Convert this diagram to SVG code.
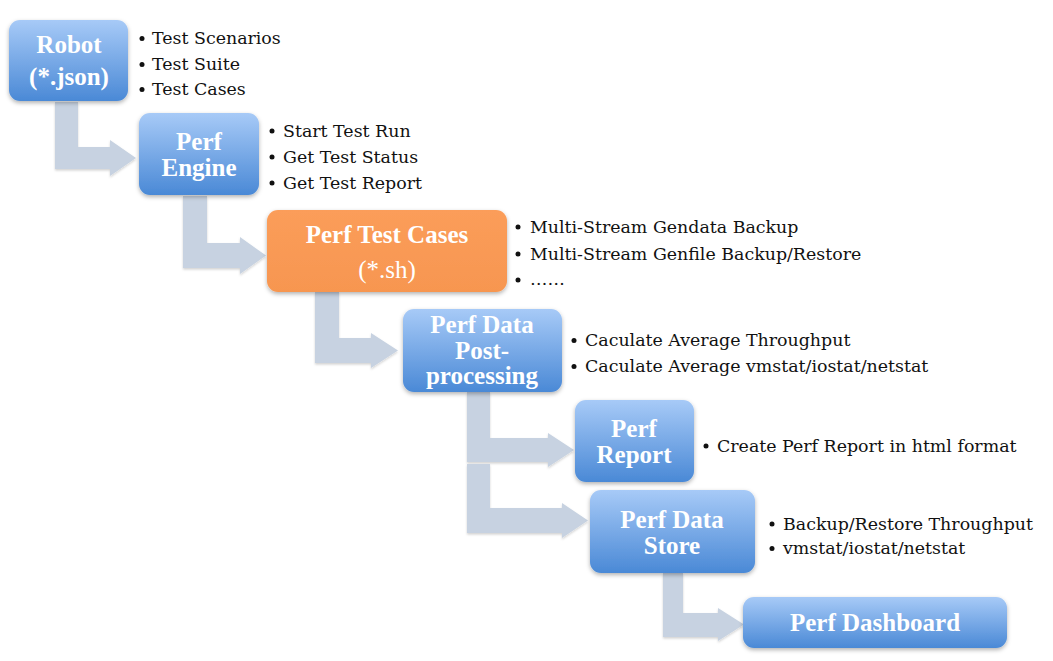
<svg xmlns="http://www.w3.org/2000/svg" width="1053" height="661" viewBox="0 0 1053 661">
<defs>
  <linearGradient id="blue" x1="0" y1="0" x2="0" y2="1">
    <stop offset="0" stop-color="#a7caf7"/>
    <stop offset="1" stop-color="#4a89d6"/>
  </linearGradient>
  <linearGradient id="orange" x1="0" y1="0" x2="0" y2="1">
    <stop offset="0" stop-color="#fb9d5a"/>
    <stop offset="1" stop-color="#f79650"/>
  </linearGradient>
  <filter id="shadow" x="-10%" y="-10%" width="120%" height="130%">
    <feDropShadow dx="0" dy="2" stdDeviation="2" flood-color="#000" flood-opacity="0.3"/>
  </filter>
  <filter id="ashadow" x="-10%" y="-10%" width="120%" height="130%">
    <feDropShadow dx="0" dy="1.5" stdDeviation="1.2" flood-color="#000" flood-opacity="0.18"/>
  </filter>
</defs>
<style>
  .box { fill: url(#blue); filter: url(#shadow); }
  .obox { fill: url(#orange); filter: url(#shadow); }
  .lbl { font-family: "Liberation Serif", "Times New Roman", serif; font-weight: bold; font-size: 25px; fill: #ffffff; text-anchor: middle; }
  .lbln { font-family: "Liberation Serif", "Times New Roman", serif; font-size: 25px; fill: #ffffff; text-anchor: middle; }
  .bul { font-family: "DejaVu Serif", "Liberation Serif", serif; font-size: 17.4px; fill: #111111; }
  .dot { fill: #111111; }
  .arrow { fill: #c7d2e1; filter: url(#ashadow); }
</style>

<g id="connectors">
  <path class="arrow" d="M55,102 H78 V147 H110 V140 L136,158 L110,176 V169 H55 Z"/>
  <path class="arrow" d="M183,196 H207 V243 H240 V237 L266,255.5 L240,274 V268 H183 Z"/>
  <path class="arrow" d="M315,292 H339 V338 H371 V333 L398,350.5 L371,368 V363 H315 Z"/>
  <path class="arrow" d="M467,392 H490 V438 H548 V433 L574,450 L548,467 V462 H467 Z"/>
  <path class="arrow" d="M467,464 H490 V508 H562 V503 L588,520.5 L562,538 V533 H467 Z"/>
  <path class="arrow" d="M663,573 H683 V613 H718 V608 L744,624.5 L718,641 V637 H663 Z"/>
</g>

<g id="robot">
  <rect class="box" x="9" y="20" width="119" height="81" rx="11"/>
  <text class="lbl" x="69" y="53">Robot</text>
  <text class="lbl" x="69" y="85">(*.json)</text>
  <circle class="dot" cx="142" cy="38.5" r="2.5"/>
  <text class="bul" x="152" y="44">Test Scenarios</text>
  <circle class="dot" cx="142" cy="64.5" r="2.5"/>
  <text class="bul" x="152" y="70">Test Suite</text>
  <circle class="dot" cx="142" cy="89.5" r="2.5"/>
  <text class="bul" x="152" y="95">Test Cases</text>
</g>

<g id="perf-engine">
  <rect class="box" x="139" y="113" width="120" height="82" rx="11"/>
  <text class="lbl" x="199" y="150">Perf</text>
  <text class="lbl" x="199" y="176">Engine</text>
  <circle class="dot" cx="272" cy="131" r="2.5"/>
  <text class="bul" x="283" y="137">Start Test Run</text>
  <circle class="dot" cx="272" cy="157" r="2.5"/>
  <text class="bul" x="283" y="163">Get Test Status</text>
  <circle class="dot" cx="272" cy="183" r="2.5"/>
  <text class="bul" x="283" y="189">Get Test Report</text>
</g>

<g id="perf-test-cases">
  <rect class="obox" x="267" y="210" width="240" height="82" rx="11"/>
  <text class="lbl" x="387" y="243">Perf Test Cases</text>
  <text class="lbln" x="387" y="278">(*.sh)</text>
  <circle class="dot" cx="518" cy="227" r="2.5"/>
  <text class="bul" x="530" y="233">Multi-Stream Gendata Backup</text>
  <circle class="dot" cx="518" cy="254" r="2.5"/>
  <text class="bul" x="530" y="260">Multi-Stream Genfile Backup/Restore</text>
  <circle class="dot" cx="518" cy="280" r="2.5"/>
  <text class="bul" x="530" y="285">……</text>
</g>

<g id="perf-data-post-processing">
  <rect class="box" x="403" y="309" width="159" height="83" rx="11"/>
  <text class="lbl" x="482" y="333">Perf Data</text>
  <text class="lbl" x="482" y="359">Post-</text>
  <text class="lbl" x="482" y="384">processing</text>
  <circle class="dot" cx="574" cy="340.5" r="2.5"/>
  <text class="bul" x="585" y="346">Caculate Average Throughput</text>
  <circle class="dot" cx="574" cy="366.5" r="2.5"/>
  <text class="bul" x="585" y="372">Caculate Average vmstat/iostat/netstat</text>
</g>

<g id="perf-report">
  <rect class="box" x="575" y="400" width="119" height="82" rx="11"/>
  <text class="lbl" x="634" y="437">Perf</text>
  <text class="lbl" x="634" y="463">Report</text>
  <circle class="dot" cx="706" cy="446" r="2.5"/>
  <text class="bul" x="717" y="452">Create Perf Report in html format</text>
</g>

<g id="perf-data-store">
  <rect class="box" x="590" y="490" width="165" height="83" rx="11"/>
  <text class="lbl" x="672" y="528">Perf Data</text>
  <text class="lbl" x="672" y="554">Store</text>
  <circle class="dot" cx="772" cy="524" r="2.5"/>
  <text class="bul" x="783" y="530">Backup/Restore Throughput</text>
  <circle class="dot" cx="772" cy="548.5" r="2.5"/>
  <text class="bul" x="783" y="554">vmstat/iostat/netstat</text>
</g>

<g id="perf-dashboard">
  <rect class="box" x="743" y="597" width="264" height="51" rx="11"/>
  <text class="lbl" x="875" y="631">Perf Dashboard</text>
</g>
</svg>
